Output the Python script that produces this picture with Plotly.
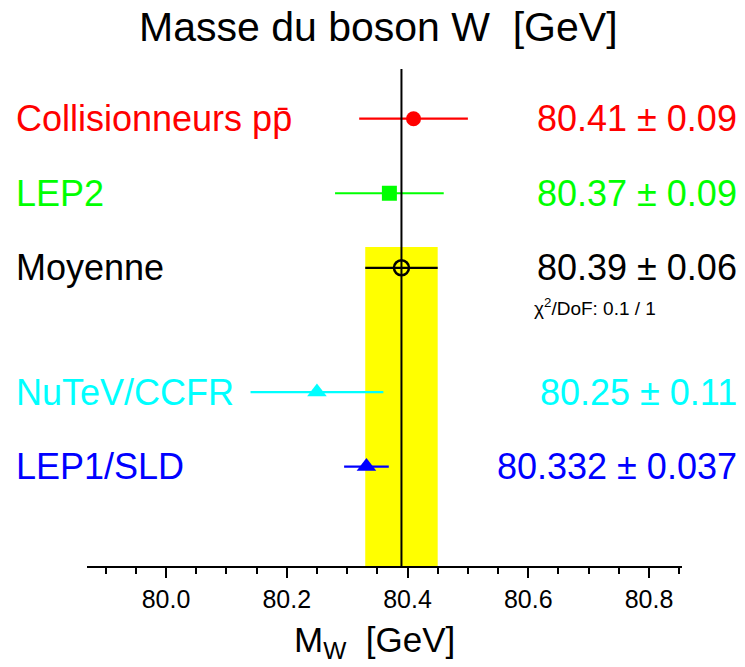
import plotly.graph_objects as go

# ---- data ----
labels = ["Collisionneurs p\u0070\u0304", "LEP2", "Moyenne", "NuTeV/CCFR", "LEP1/SLD"]
values = [80.41, 80.37, 80.39, 80.25, 80.332]
errors = [0.09, 0.09, 0.06, 0.11, 0.037]
value_labels = ["80.41 \u00b1 0.09", "80.37 \u00b1 0.09", "80.39 \u00b1 0.06",
                "80.25 \u00b1 0.11", "80.332 \u00b1 0.037"]
rows = [9, 7.5, 6, 3.5, 2]
chi2_text = "\u03c7<sup>2</sup>/DoF: 0.1 / 1"
tick_vals = [80.0, 80.2, 80.4, 80.6, 80.8]
mean_index = 2

# ---- styles ----
colors = ["#ff0000", "#00ff00", "#000000", "#00ffff", "#0000ff"]
symbols = ["circle", "square", "circle-open", "triangle-up", "triangle-up"]
sizes = [15, 15, 15, 17, 17]
FONT = "Liberation Sans, Arial, Helvetica, sans-serif"

W, H = 745, 667
PL, PR, PT, PB = 87, 682, 68.5, 565.7


def px(x):
    return (x - PL) / (PR - PL)


def py(y):
    return (PB - y) / (PB - PT)


fig = go.Figure()

for lab, v, e, r, c, s, sz in zip(labels, values, errors, rows, colors, symbols, sizes):
    fig.add_trace(go.Scatter(
        x=[v], y=[r], mode="markers",
        marker=dict(symbol=s, size=sz, color=c,
                    line=dict(color=c, width=2.5 if "open" in s else 0)),
        error_x=dict(type="data", array=[e], symmetric=True, color=c,
                     thickness=2.2, width=0),
        showlegend=False, hoverinfo="skip", name=lab,
    ))

# mean band and line
m, me = values[mean_index], errors[mean_index]
fig.add_shape(type="rect", xref="x", yref="y", x0=m - me, x1=m + me, y0=0, y1=6.42,
              fillcolor="#ffff00", line=dict(width=0), layer="below")
fig.add_shape(type="line", xref="x", yref="y", x0=m, x1=m, y0=0, y1=10,
              line=dict(color="black", width=2), layer="above")

# labels
for lab, vl, r, c in zip(labels, value_labels, rows, colors):
    fig.add_annotation(text=lab, xref="paper", yref="y", x=px(14), y=r,
                       xanchor="left", yanchor="middle", showarrow=False,
                       font=dict(family=FONT, size=36, color=c))
    fig.add_annotation(text=vl, xref="paper", yref="y", x=px(739), y=r,
                       xanchor="right", yanchor="middle", showarrow=False,
                       font=dict(family=FONT, size=36, color=c))

fig.add_annotation(text=chi2_text, xref="paper", yref="paper", x=px(532), y=py(307),
                   xanchor="left", yanchor="middle", showarrow=False,
                   font=dict(family=FONT, size=19, color="black"))

# title and axis title
fig.add_annotation(text="Masse du boson W  [GeV]", xref="paper", yref="paper",
                   x=px(378), y=py(26), xanchor="center", yanchor="middle",
                   showarrow=False, font=dict(family=FONT, size=41, color="black"))
fig.add_annotation(text="M<sub>W</sub>  [GeV]", xref="paper", yref="paper",
                   x=px(292), y=py(642), xanchor="left", yanchor="middle",
                   showarrow=False, font=dict(family=FONT, size=35, color="black"))

x_lo = 80.0 - (166 - PL) / 603.75
x_hi = 80.8 + (PR - 649) / 603.75

fig.update_layout(
    width=W, height=H,
    margin=dict(l=PL, r=W - PR, t=PT, b=H - PB),
    paper_bgcolor="white", plot_bgcolor="white",
    xaxis=dict(range=[x_lo, x_hi], showgrid=False, zeroline=False,
               showline=True, linecolor="black", linewidth=2,
               ticks="outside", ticklen=10, tickwidth=2, tickcolor="black",
               tickvals=tick_vals, ticktext=[f"{t:.1f}" for t in tick_vals],
               tickfont=dict(family=FONT, size=25, color="black"),
               minor=dict(ticks="outside", dtick=0.05, tick0=80.0, ticklen=6,
                          tickwidth=1.5, tickcolor="black", showgrid=False),
               fixedrange=True),
    yaxis=dict(range=[0, 10], visible=False, showgrid=False, zeroline=False,
               fixedrange=True),
    showlegend=False,
)

fig.write_html("out.html")
